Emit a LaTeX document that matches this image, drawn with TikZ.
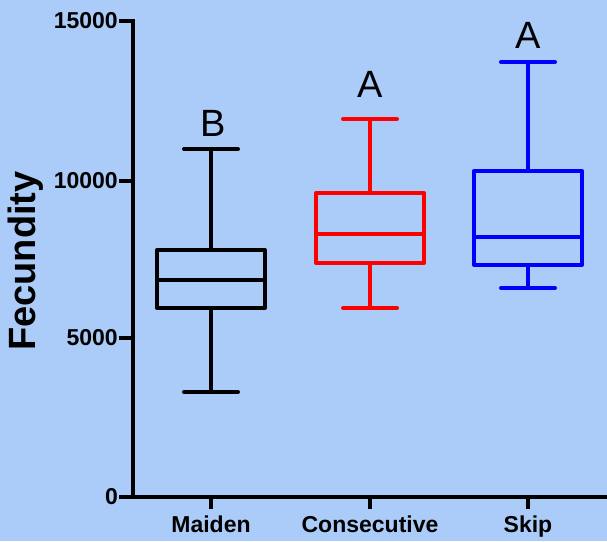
\documentclass[tikz,border=0pt]{standalone}
\usepackage{fontspec}
\setmainfont{Liberation Sans}
\begin{document}
\begin{tikzpicture}[x=1pt,y=-1pt,
  axis/.style={line width=4pt,black},
  tick/.style={line width=4pt,black},
  boxline/.style={line width=4pt,line join=round,line cap=round},
  ticklab/.style={font=\fontsize{23}{23}\selectfont\bfseries,inner sep=0pt,anchor=east},
  catlab/.style={font=\fontsize{23}{23}\selectfont\bfseries,inner sep=0pt,anchor=base},
  siglab/.style={font=\fontsize{38}{38}\selectfont,inner sep=0pt,anchor=base},
]
\definecolor{bg}{RGB}{171,203,248}
\fill[bg] (0,0) rectangle (607,541);
\useasboundingbox (0,0) rectangle (607,541);
% axes
\coordinate (ytop) at (133,19);
\coordinate (origin) at (133,497);
\coordinate (xend) at (607,497);
\draw[axis] (ytop) -- (origin) -- (xend);
% y ticks
\foreach \v/\py in {15000/21,10000/181,5000/338,0/497}{
  \coordinate (yt\v) at (133,\py);
  \coordinate (ytl\v) at (119,\py);
  \draw[tick] (yt\v) -- (ytl\v);
  \node[ticklab] (ylab\v) at (118,\py) {\v};
}
% x ticks
\foreach \n/\px/\t in {m/211/Maiden,c/370/Consecutive,s/528/Skip}{
  \coordinate (xt\n) at (\px,497);
  \coordinate (xtl\n) at (\px,509);
  \draw[tick] (xt\n) -- (xtl\n);
  \node[catlab] (cat\n) at (\px,532) {\t};
}
% y label
\node[font=\fontsize{38}{38}\selectfont\bfseries,rotate=90,inner sep=0pt] (ylabel) at (26,261) {Fecundity};
% boxes: color, center x, cap top, box top, median, box bottom, cap bottom
\foreach \col/\cx/\wt/\bt/\md/\bb/\wb in {black/211/149/250/280/308/392,red/370/119/193/234/263/308,blue/528/62/171/237/265/288}{
  \draw[boxline,\col] (\cx-54,\bt) rectangle (\cx+54,\bb);
  \draw[boxline,\col] (\cx-54,\md) -- (\cx+54,\md);
  \draw[boxline,\col] (\cx,\bt) -- (\cx,\wt);
  \draw[boxline,\col] (\cx,\bb) -- (\cx,\wb);
  \draw[boxline,\col] (\cx-27,\wt) -- (\cx+27,\wt);
  \draw[boxline,\col] (\cx-27,\wb) -- (\cx+27,\wb);
}
% significance letters
\node[siglab] (sigm) at (213,136) {B};
\node[siglab] (sigc) at (370,97) {A};
\node[siglab] (sigs) at (528,48) {A};
\end{tikzpicture}
\end{document}
